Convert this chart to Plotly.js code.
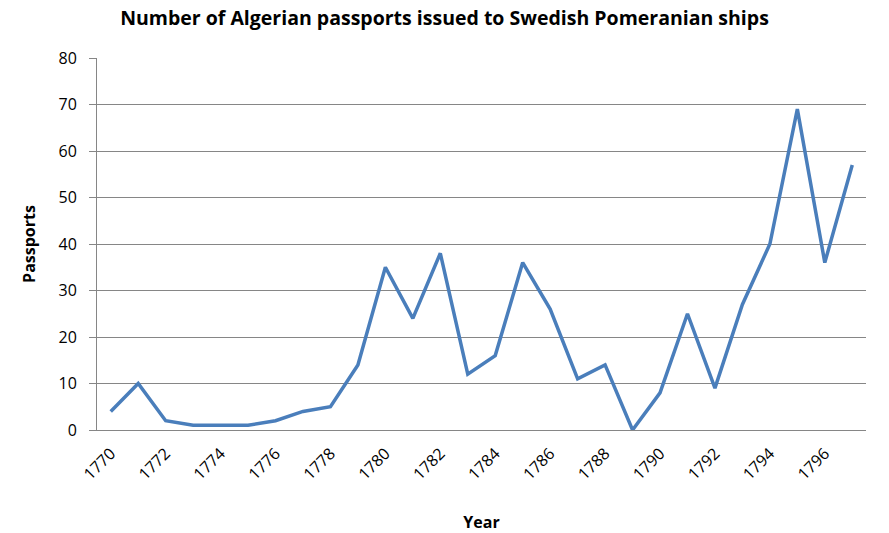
<!DOCTYPE html>
<html>
<head>
<meta charset="utf-8">
<script src="https://cdn.plot.ly/plotly-3.0.1.min.js"></script>
<style>html,body{margin:0;padding:0;background:#fff;}#chart{width:889px;height:533px;}</style>
</head>
<body>
<div id="chart"></div>
<script>
const years = [1770,1771,1772,1773,1774,1775,1776,1777,1778,1779,1780,1781,1782,1783,1784,1785,1786,1787,1788,1789,1790,1791,1792,1793,1794,1795,1796,1797];
const passports = [4,10,2,1,1,1,2,4,5,14,35,24,38,12,16,36,26,11,14,0,8,25,9,27,40,69,36,57];
const yTicks = [0,10,20,30,40,50,60,70,80];
const xTicks = [1770,1772,1774,1776,1778,1780,1782,1784,1786,1788,1790,1792,1794,1796];

const fontFam = '"Open Sans", "Liberation Sans", sans-serif';

Plotly.newPlot('chart', [{
  x: years, y: passports, type: 'scatter', mode: 'lines',
  line: {color: '#4A7EBB', width: 3.5}, hoverinfo: 'x+y'
}], {
  width: 889, height: 533,
  margin: {l: 97, r: 23, t: 58, b: 103},
  paper_bgcolor: '#fff', plot_bgcolor: '#fff',
  showlegend: false,
  title: {text: '<b>Number of Algerian passports issued to Swedish Pomeranian ships</b>',
    font: {family: fontFam, size: 19.5, color: '#000'}, x: 0.5, xanchor: 'center', y: 0.965, yanchor: 'middle'},
  xaxis: {
    range: [1769.5, 1797.5], tickmode: 'array', tickvals: xTicks, ticktext: xTicks.map(String),
    tickangle: -45, tickfont: {family: fontFam, size: 16, color: '#000'},
    showgrid: false, zeroline: false, showline: true, linecolor: '#868686', linewidth: 1,
    ticks: '', ticklabelstandoff: 7, fixedrange: true,
    title: {text: '<b>Year</b>', font: {family: fontFam, size: 16, color: '#000'}, standoff: 34}
  },
  yaxis: {
    range: [0, 80], tickmode: 'array', tickvals: yTicks, ticktext: yTicks.map(String),
    tickfont: {family: fontFam, size: 16, color: '#000'},
    showgrid: true, gridcolor: '#868686', gridwidth: 1, zeroline: false,
    showline: true, linecolor: '#868686', linewidth: 1,
    ticks: 'outside', ticklen: 7, tickcolor: '#868686', ticklabelstandoff: 9, fixedrange: true,
    title: {text: '<b>Passports</b>', font: {family: fontFam, size: 16, color: '#000'}, standoff: 18}
  }
}, {displayModeBar: false, staticPlot: true});
</script>
</body>
</html>
